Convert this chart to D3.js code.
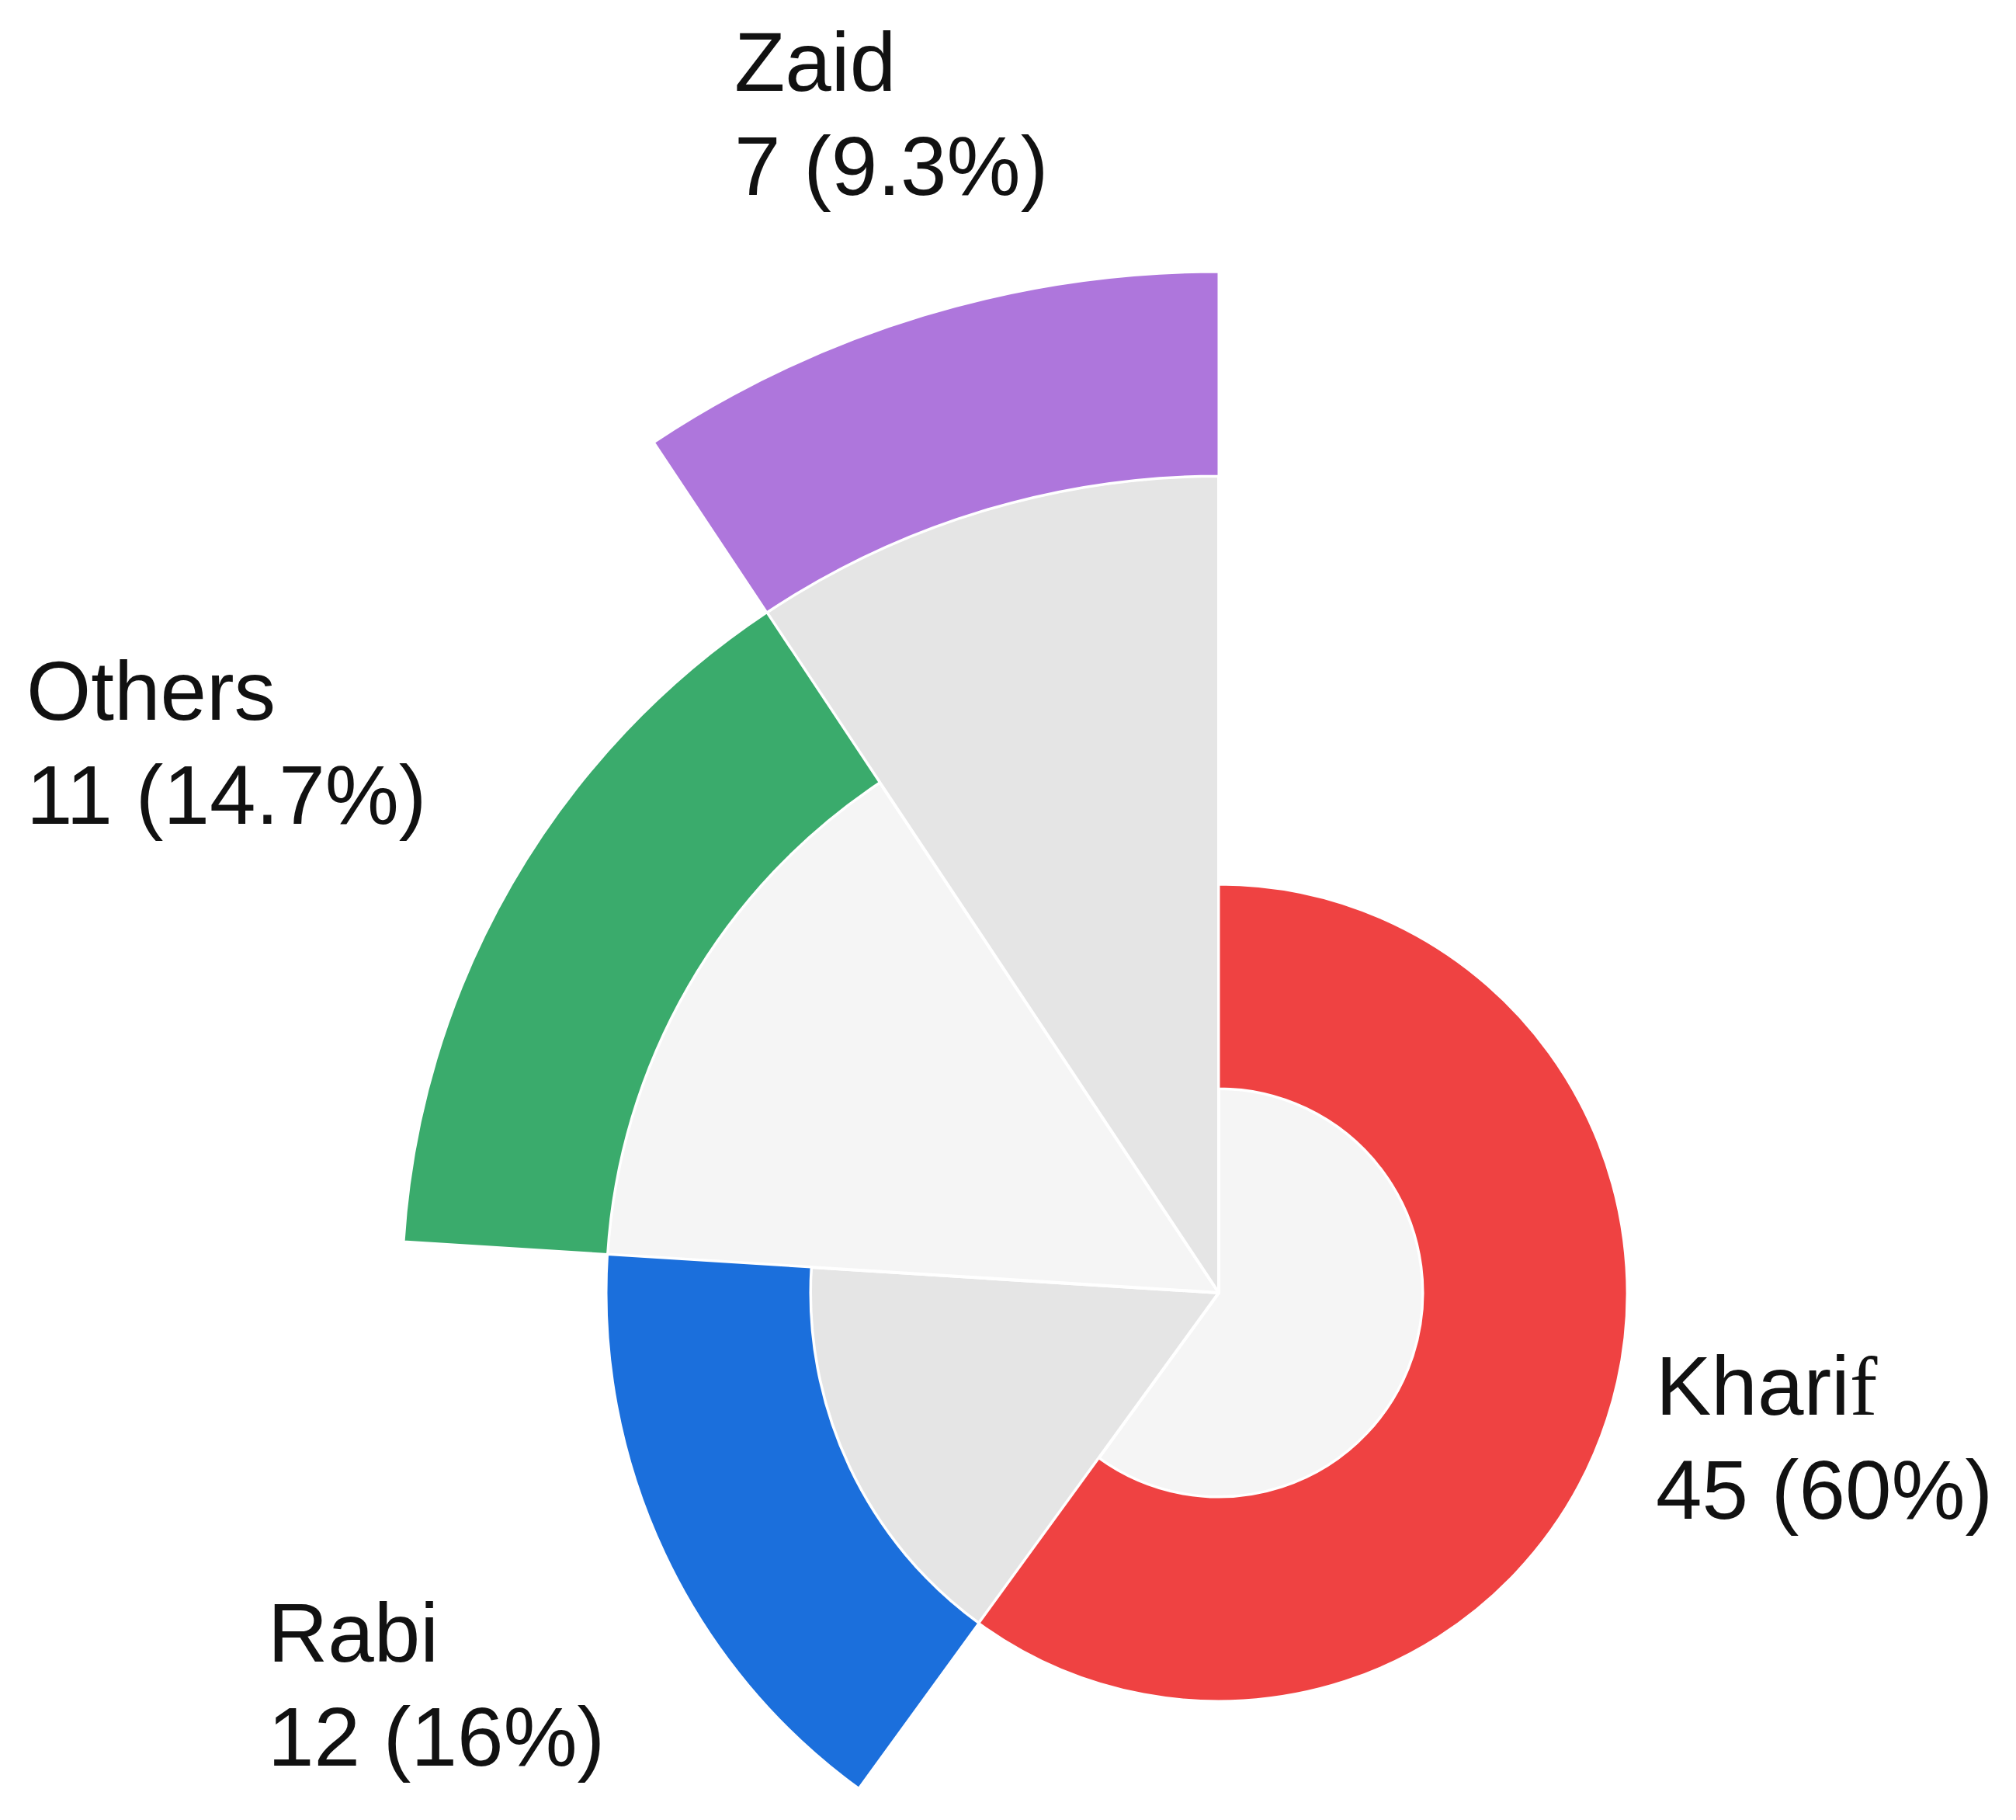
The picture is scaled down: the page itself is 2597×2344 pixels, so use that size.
<!DOCTYPE html>
<html>
<head>
<meta charset="utf-8">
<script src="https://cdn.jsdelivr.net/npm/d3@7"></script>
<style>
  html, body { margin: 0; padding: 0; background: #ffffff; }
  svg { display: block; }
</style>
</head>
<body>
<svg id="chart" width="2597" height="2344"></svg>
<script>
// ---- Data ----
const categories = ["Kharif", "Rabi", "Others", "Zaid"];
const values = [45, 12, 11, 7];
const percentLabels = ["60%", "16%", "14.7%", "9.3%"];
const bandColors = ["#ef4242", "#1b6fdc", "#3aab6c", "#ae76dc"];
const coreColors = ["#f5f5f5", "#e5e5e5", "#f5f5f5", "#e5e5e5"];

// ---- Layout ----
const W = 2597, H = 2344;
const cx = 1570, cy = 1665;
const svg = d3.select("#chart");
const g = svg.append("g").attr("transform", `translate(${cx},${cy})`);

const r = d3.scaleLinear().domain([0, 5]).range([0, 1315]);

const pie = d3.pie().sort(null).value(d => d.value).startAngle(0).endAngle(2 * Math.PI);
const data = categories.map((c, i) => ({ name: c, value: values[i], idx: i }));
const arcs = pie(data);

const coreArc = d3.arc()
  .innerRadius(0)
  .outerRadius(d => r(d.data.idx + 1));
const bandArc = d3.arc()
  .innerRadius(d => r(d.data.idx + 1))
  .outerRadius(d => r(d.data.idx + 2));

g.selectAll("path.core")
  .data(arcs)
  .join("path")
  .attr("class", "core")
  .attr("d", coreArc)
  .attr("fill", d => coreColors[d.data.idx])
  .attr("stroke", "#ffffff")
  .attr("stroke-width", 4)
  .attr("stroke-linejoin", "round");

g.selectAll("path.band")
  .data(arcs)
  .join("path")
  .attr("class", "band")
  .attr("d", bandArc)
  .attr("fill", d => bandColors[d.data.idx])
  .attr("stroke", "#ffffff")
  .attr("stroke-width", 3)
  .attr("stroke-linejoin", "round");

// ---- Labels ----
const labelLayout = {
  "Kharif": { x: 2133, y: 1822 },
  "Rabi":   { x: 345,  y: 2140 },
  "Others": { x: 34,   y: 927 },
  "Zaid":   { x: 946,  y: 117 }
};
const lineGap = 134;
const fontSize = 107;

arcs.forEach(d => {
  const name = d.data.name;
  const pos = labelLayout[name];
  const t = svg.append("text")
    .attr("x", pos.x)
    .attr("y", pos.y)
    .attr("font-family", "'Liberation Sans', Arial, sans-serif")
    .attr("font-size", fontSize)
    .attr("fill", "#111111");
  if (name === "Kharif") {
    t.append("tspan").text("Khari");
    t.append("tspan").attr("font-family", "'Liberation Serif', 'Times New Roman', serif").text("f");
  } else {
    t.append("tspan").text(name);
  }
  svg.append("text")
    .attr("x", pos.x)
    .attr("y", pos.y + lineGap)
    .attr("font-family", "'Liberation Sans', Arial, sans-serif")
    .attr("font-size", fontSize)
    .attr("fill", "#111111")
    .text(`${d.data.value} (${percentLabels[d.data.idx]})`);
});
</script>
</body>
</html>
